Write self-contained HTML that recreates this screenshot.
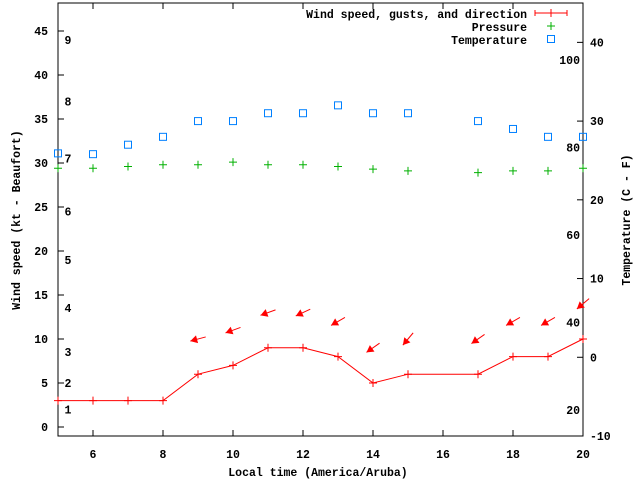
<!DOCTYPE html>
<html><head><meta charset="utf-8"><style>
body{margin:0;background:#fff}
svg text{font-family:"Liberation Mono","DejaVu Sans Mono",monospace;font-size:11.5px;font-weight:bold;fill:#000}
</style></head><body>
<svg id="chart" width="640" height="480" xmlns="http://www.w3.org/2000/svg"></svg>
<script>
const hours=[5,6,7,8,9,10,11,12,13,14,15,17,18,19,20];
const wind=[3,3,3,3,6,7,9,9,8,5,6,6,8,8,10];
const pressure=[29.4,29.4,29.6,29.8,29.8,30.1,29.8,29.8,29.6,29.3,29.1,28.9,29.1,29.1,29.4];
const tempC=[25.9,25.8,27,28,30,30,31,31,32,31,31,30,29,28,28];
const dirHours=[9,10,11,12,13,14,15,17,18,19,20];
const dirWind=[6,7,9,9,8,5,6,6,8,8,10];
const dirDeg=[75,70,70,65,60,55,40,55,60,60,50];
const xTicks=[6,8,10,12,14,16,18,20];
const yTicks=[0,5,10,15,20,25,30,35,40,45];
const cTicks=[-10,0,10,20,30,40];
const fTicks=[20,40,60,80,100];
const bft=[1,2,3,4,5,6,7,8,9];
const bftMid=[2,5,8.5,13.5,19,24.5,30.5,37,44];

const L=58,R=583,T=3,B=436;
const X=h=>L+(h-5)/15*(R-L);
const Y=v=>427-v*8.8;
const YC=c=>B-(c+10)*(B-T)/55;
const YF=f=>YC((f-32)*5/9);
const svg=document.getElementById('chart');
const NS='http://www.w3.org/2000/svg';
function mk(tag,attrs,parent){const e=document.createElementNS(NS,tag);for(const k in attrs)e.setAttribute(k,attrs[k]);(parent||svg).appendChild(e);return e;}
function txt(s,x,y,anchor,name){const t=mk('text',{x:x,y:y,'text-anchor':anchor||'middle'});t.textContent=s;


return t;}

const frame=mk('rect',{x:L,y:T,width:R-L,height:B-T,fill:'none',stroke:'#000','stroke-width':1});



xTicks.forEach(h=>{const x=X(h);
 mk('line',{x1:x,y1:B,x2:x,y2:B-6,stroke:'#000'});mk('line',{x1:x,y1:T,x2:x,y2:T+6,stroke:'#000'});
 txt(h,x,458,'middle','x-tick-label');});
yTicks.forEach(v=>{const y=Y(v);mk('line',{x1:L,y1:y,x2:L+6,y2:y,stroke:'#000'});txt(v,48,y+4,'end','y-tick-label');});
cTicks.forEach(c=>{const y=YC(c);mk('line',{x1:R,y1:y,x2:R-6,y2:y,stroke:'#000'});txt(c,590,y+4,'start','temp-c-tick-label');});
fTicks.forEach(f=>txt(f,580,YF(f)+4,'end','temp-f-label'));
bft.forEach((b,i)=>txt(b,68,Y(bftMid[i])+4,'middle','beaufort-label'));

let t=txt('Wind speed (kt - Beaufort)',0,0,'middle','y-axis-title');t.setAttribute('transform','translate(20,220) rotate(-90)');
t=txt('Temperature (C - F)',0,0,'middle','y2-axis-title');t.setAttribute('transform','translate(630,220) rotate(-90)');
txt('Local time (America/Aruba)',318,476,'middle','x-axis-title');

// wind line
let d='M'+L+' '+Y(wind[0]);hours.forEach((h,i)=>d+=' L'+X(h)+' '+Y(wind[i]));
const wl=mk('path',{d:d,fill:'none',stroke:'#f00','stroke-width':1});


hours.forEach((h,i)=>{const x=X(h),y=Y(wind[i]);const g=mk('path',{d:`M${x-4} ${y}H${x+4}M${x} ${y-4}V${y+4}`,stroke:'#f00'});

});
// direction arrows
dirHours.forEach((h,i)=>{const cx=X(h),cy=Y(dirWind[i]+4);const a=(dirDeg[i]+180)*Math.PI/180;
 const dx=Math.sin(a),dy=-Math.cos(a);const hx=cx+dx*8,hy=cy+dy*8,tx=cx-dx*8,ty=cy-dy*8;
 const px=-dy,py=dx;
 const g=mk('g',{});
 
 
 mk('line',{x1:tx,y1:ty,x2:hx,y2:hy,stroke:'#f00'},g);
 mk('polygon',{points:`${hx},${hy} ${hx-dx*7+px*4},${hy-dy*7+py*4} ${hx-dx*7-px*4},${hy-dy*7-py*4}`,fill:'#f00'},g);});
// pressure
hours.forEach((h,i)=>{const x=X(h),y=Y(pressure[i]);const g=mk('path',{d:`M${x-4} ${y}H${x+4}M${x} ${y-4}V${y+4}`,stroke:'#00b000'});

});
// temperature
hours.forEach((h,i)=>{const x=X(h),y=YC(tempC[i]);const r=mk('rect',{x:x-3.5,y:y-3.5,width:7,height:7,fill:'none',stroke:'#0080ff'});

});
// legend
const lg=mk('g',{});


txt('Wind speed, gusts, and direction',527,18,'end','legend-wind-label');
mk('path',{d:'M535 13H567M535 10V16M567 10V16M551 9V17',stroke:'#f00'},lg);
txt('Pressure',527,31,'end','legend-pressure-label');
mk('path',{d:'M547 26H555M551 22V30',stroke:'#00b000'},lg);
txt('Temperature',527,44,'end','legend-temperature-label');
mk('rect',{x:547.5,y:35.5,width:7,height:7,fill:'none',stroke:'#0080ff'},lg);
</script>
</body></html>
